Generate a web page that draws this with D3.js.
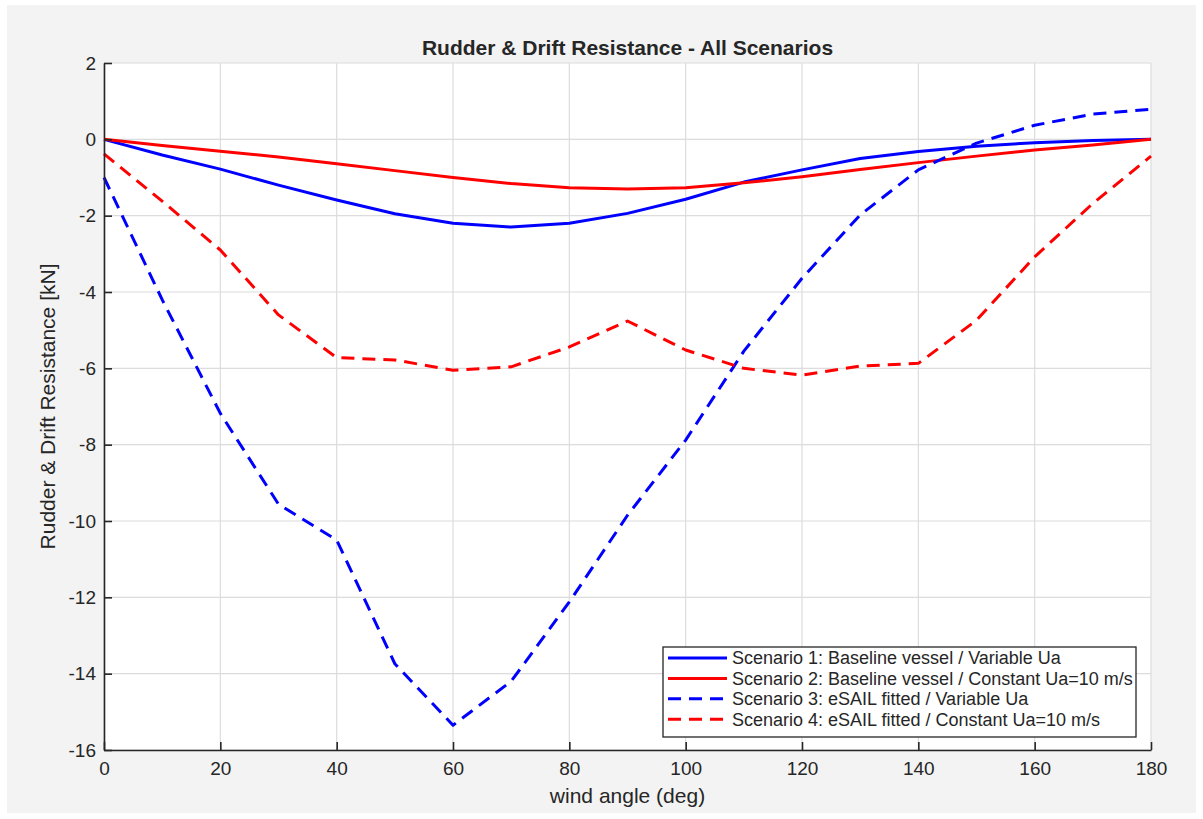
<!DOCTYPE html>
<html>
<head>
<meta charset="utf-8">
<script src="https://cdn.jsdelivr.net/npm/d3@7"></script>
<style>
  html, body { margin: 0; padding: 0; background: #ffffff; }
  svg { display: block; }
  text { font-family: "Liberation Sans", Arial, sans-serif; fill: #262626; }
</style>
</head>
<body>
<svg id="chart" width="1203" height="819"></svg>
<script>
// wind angle samples (deg)
const angles = [0, 10, 20, 30, 40, 50, 60, 70, 80, 90, 100, 110, 120, 130, 140, 150, 160, 170, 180];

// rudder & drift resistance per scenario (kN)
const scenario1 = [0, -0.41, -0.78, -1.2, -1.59, -1.95, -2.2, -2.3, -2.2, -1.94, -1.57, -1.12, -0.8, -0.5, -0.32, -0.18, -0.09, -0.03, 0];
const scenario2 = [0, -0.16, -0.31, -0.46, -0.64, -0.82, -1.0, -1.16, -1.27, -1.3, -1.27, -1.14, -0.98, -0.79, -0.61, -0.44, -0.28, -0.15, 0];
const scenario3 = [-1.0, -4.2, -7.18, -9.56, -10.5, -13.74, -15.35, -14.2, -12.12, -9.85, -7.88, -5.55, -3.64, -1.98, -0.8, -0.1, 0.37, 0.66, 0.79];
const scenario4 = [-0.38, -1.62, -2.9, -4.6, -5.72, -5.78, -6.05, -5.96, -5.44, -4.76, -5.52, -6.0, -6.18, -5.94, -5.87, -4.74, -3.08, -1.68, -0.44];

const seriesNames = [
  "Scenario 1: Baseline vessel / Variable Ua",
  "Scenario 2: Baseline vessel / Constant Ua=10 m/s",
  "Scenario 3: eSAIL fitted / Variable Ua",
  "Scenario 4: eSAIL fitted / Constant Ua=10 m/s"
];
const seriesColors = ["#0000ff", "#ff0000", "#0000ff", "#ff0000"];
const seriesDashed = [false, false, true, true];

const xTicks = [0, 20, 40, 60, 80, 100, 120, 140, 160, 180];
const yTicks = [2, 0, -2, -4, -6, -8, -10, -12, -14, -16];

const series = [scenario1, scenario2, scenario3, scenario4].map((vals, i) => ({
  name: seriesNames[i], color: seriesColors[i], dashed: seriesDashed[i],
  points: angles.map((a, j) => [a, vals[j]])
}));

const svg = d3.select("#chart");
const plot = { left: 104, right: 1151, top: 63, bottom: 750 };
const DASH = "13,8";

// figure panel
svg.append("rect").attr("x", 7).attr("y", 5).attr("width", 1189).attr("height", 808).attr("fill", "#f3f3f3");
// axes background
svg.append("rect").attr("x", plot.left).attr("y", plot.top)
  .attr("width", plot.right - plot.left).attr("height", plot.bottom - plot.top).attr("fill", "#ffffff");

const x = d3.scaleLinear().domain([0, 180]).range([plot.left, plot.right]);
const y = d3.scaleLinear().domain([-16, 2]).range([plot.bottom, plot.top]);

// grid
const grid = svg.append("g").attr("stroke", "#dcdcdc").attr("stroke-width", 1.2);
grid.selectAll("line.gx").data(xTicks).join("line")
  .attr("x1", d => x(d)).attr("x2", d => x(d)).attr("y1", plot.top).attr("y2", plot.bottom);
grid.selectAll("line.gy").data(yTicks).join("line")
  .attr("y1", d => y(d)).attr("y2", d => y(d)).attr("x1", plot.left).attr("x2", plot.right);

// data lines
const line = d3.line().x(d => x(d[0])).y(d => y(d[1]));
const lines = svg.append("g");
series.forEach(s => {
  lines.append("path").datum(s.points)
    .attr("d", line).attr("fill", "none")
    .attr("stroke", s.color).attr("stroke-width", 3)
    .attr("stroke-linejoin", "round")
    .attr("stroke-dasharray", s.dashed ? DASH : null);
});

// axes (ticks point inward, plain hyphen minus)
const fmt = d => String(d);
const xAxis = d3.axisBottom(x).tickValues(xTicks).tickFormat(fmt).tickSize(-8).tickPadding(12).tickSizeOuter(0);
const yAxis = d3.axisLeft(y).tickValues(yTicks).tickFormat(fmt).tickSize(-8).tickPadding(8).tickSizeOuter(0);

const gx = svg.append("g").attr("transform", `translate(0,${plot.bottom})`).call(xAxis);
const gy = svg.append("g").attr("transform", `translate(${plot.left},0)`).call(yAxis);
[gx, gy].forEach(g => {
  g.select(".domain").attr("stroke", "#262626").attr("stroke-width", 1.6);
  g.selectAll(".tick line").attr("stroke", "#262626").attr("stroke-width", 1.6);
  g.selectAll(".tick text").attr("font-size", 19).attr("fill", "#262626")
    .style("font-family", "'Liberation Sans', Arial, sans-serif");
});

// title and axis labels
svg.append("text").attr("x", (plot.left + plot.right) / 2).attr("y", 55)
  .attr("text-anchor", "middle").attr("font-size", 21).attr("font-weight", "bold")
  .text("Rudder & Drift Resistance - All Scenarios");
svg.append("text").attr("x", (plot.left + plot.right) / 2).attr("y", 803)
  .attr("text-anchor", "middle").attr("font-size", 21).text("wind angle (deg)");
svg.append("text").attr("transform", `translate(55,${(plot.top + plot.bottom) / 2}) rotate(-90)`)
  .attr("text-anchor", "middle").attr("font-size", 21).text("Rudder & Drift Resistance [kN]");

// legend
const lg = svg.append("g").attr("transform", "translate(663,647)");
lg.append("rect").attr("width", 473).attr("height", 90)
  .attr("fill", "#ffffff").attr("stroke", "#262626").attr("stroke-width", 1.3);
series.forEach((s, i) => {
  const ly = 11 + i * 20.4;
  lg.append("line").attr("x1", 5).attr("x2", 64).attr("y1", ly).attr("y2", ly)
    .attr("stroke", s.color).attr("stroke-width", 3)
    .attr("stroke-dasharray", s.dashed ? DASH : null);
  lg.append("text").attr("x", 69).attr("y", ly).attr("dy", "0.35em")
    .attr("font-size", 18).text(s.name);
});
</script>
</body>
</html>
